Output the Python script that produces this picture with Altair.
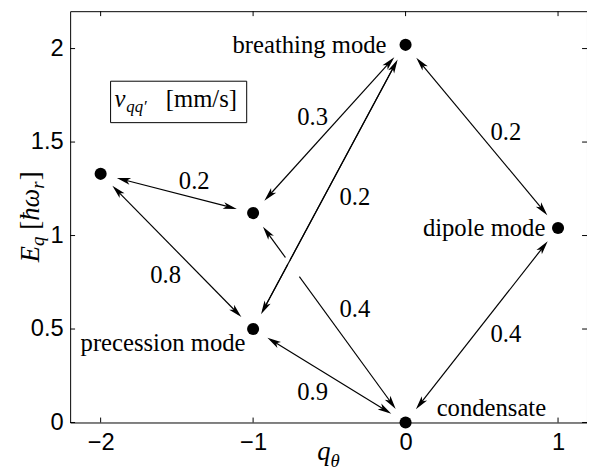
import math
import altair as alt
import pandas as pd

# ---------------- data ----------------
node_q = [0, 1, 0, -1, -1, -2]
node_E = [0.0, 1.04, 2.02, 0.50, 1.12, 1.33]

mode_names = ["condensate", "dipole mode", "breathing mode", "precession mode"]
mode_label_q = [0.204, 0.917, -0.125, -1.05]
mode_label_E = [0.079, 1.04, 2.02, 0.422]
mode_label_align = ["left", "right", "right", "right"]

edge_from = [5, 5, 2, 2, 2, 1, 4, 3]
edge_to = [4, 3, 4, 3, 1, 0, 0, 0]
edge_v = ["0.2", "0.8", "0.3", "0.2", "0.2", "0.4", "0.4", "0.9"]
edge_label_q = [-1.386, -1.574, -0.61, -0.332, 0.658, 0.658, -0.332, -0.61]
edge_label_E = [1.293, 0.79, 1.636, 1.203, 1.551, 0.475, 0.607, 0.164]

x_ticks = [-2, -1, 0, 1]
y_ticks = [0, 0.5, 1, 1.5, 2]

# ---------------- geometry ----------------
XMIN, XMAX = -2.2, 1.19
YMIN, YMAX = 0.0, 2.2
W, H = 524, 417
UX = W / (XMAX - XMIN)
UY = H / (YMAX - YMIN)
GAP = 17
HEAD = 14
SERIF = "Liberation Serif"
SANS = "Liberation Sans"


def to_px(q, E):
    return (q - XMIN) * UX, (YMAX - E) * UY


def to_data(px, py):
    return XMIN + px / UX, YMAX - py / UY


seg_rows, head_rows = [], []
for k, (i, j) in enumerate(zip(edge_from, edge_to)):
    x0, y0 = to_px(node_q[i], node_E[i])
    x1, y1 = to_px(node_q[j], node_E[j])
    dx, dy = x1 - x0, y1 - y0
    L = math.hypot(dx, dy)
    ux, uy = dx / L, dy / L
    ax, ay = x0 + ux * GAP, y0 + uy * GAP
    bx, by = x1 - ux * GAP, y1 - uy * GAP
    qa0, ea0 = to_data(ax + ux * 4, ay + uy * 4)
    qb0, eb0 = to_data(bx - ux * 4, by - uy * 4)
    seg_rows.append(dict(edge=k, q=qa0, E=ea0, q2=qb0, E2=eb0))
    ang_b = math.degrees(math.atan2(uy, ux)) % 360
    ang_a = (ang_b + 180) % 360
    qa, ea = to_data(ax, ay)
    qb, eb = to_data(bx, by)
    head_rows.append(dict(q=qa, E=ea, angle=ang_a))
    head_rows.append(dict(q=qb, E=eb, angle=ang_b))

seg_df = pd.DataFrame(seg_rows)
head_df = pd.DataFrame(head_rows)


# white break where edge 6 passes under edge 3
def seg_px(k):
    i, j = edge_from[k], edge_to[k]
    return to_px(node_q[i], node_E[i]), to_px(node_q[j], node_E[j])


(p1, p2), (p3, p4) = seg_px(6), seg_px(3)
d1 = (p2[0] - p1[0], p2[1] - p1[1])
d2 = (p4[0] - p3[0], p4[1] - p3[1])
den = d1[0] * d2[1] - d1[1] * d2[0]
t = ((p3[0] - p1[0]) * d2[1] - (p3[1] - p1[1]) * d2[0]) / den
ix, iy = p1[0] + t * d1[0], p1[1] + t * d1[1]
l1 = math.hypot(*d1)
g1 = (d1[0] / l1, d1[1] / l1)
gq0, ge0 = to_data(ix - g1[0] * 6, iy - g1[1] * 6)
gq1, ge1 = to_data(ix + g1[0] * 18, iy + g1[1] * 18)
gap_df = pd.DataFrame([dict(q=gq0, E=ge0, q2=gq1, E2=ge1)])

nodes_df = pd.DataFrame(dict(q=node_q, E=node_E))
modes_df = pd.DataFrame(dict(q=mode_label_q, E=mode_label_E, t=mode_names, a=mode_label_align))
edge_lab_df = pd.DataFrame(dict(q=edge_label_q, E=edge_label_E, t=edge_v))

# ---------------- encodings ----------------
xscale = alt.Scale(domain=[XMIN, XMAX], nice=False, zero=False)
yscale = alt.Scale(domain=[YMIN, YMAX], nice=False, zero=False)
xaxis = alt.Axis(values=x_ticks, ticks=False, tickSize=0, domain=False, grid=False,
                 title=None, labelPadding=8, labelFont=SANS, labelFontSize=24, labelColor="black",
                 labelExpr="datum.value < 0 ? '\u2212' + abs(datum.value) : '' + datum.value")
yaxis = alt.Axis(values=y_ticks, ticks=False, tickSize=0, domain=False, grid=False,
                 title=None, labelPadding=7, labelFont=SANS, labelFontSize=24, labelColor="black",
                 labelExpr="'' + datum.value")


def X(f):
    return alt.X(f, type="quantitative", scale=xscale, axis=xaxis)


def Y(f):
    return alt.Y(f, type="quantitative", scale=yscale, axis=yaxis)


layers = []

# inward ticks on all four sides
xt_df = pd.DataFrame(dict(v=x_ticks))
yt_df = pd.DataFrame(dict(v=y_ticks))
tick_style = dict(color="black", strokeWidth=1)
layers.append(alt.Chart(xt_df).mark_rule(**tick_style).encode(x=X("v"), y=alt.value(H), y2=alt.value(H - 5)))
layers.append(alt.Chart(xt_df).mark_rule(**tick_style).encode(x=X("v"), y=alt.value(0), y2=alt.value(5)))
layers.append(alt.Chart(yt_df).mark_rule(**tick_style).encode(y=Y("v"), x=alt.value(0), x2=alt.value(5)))
layers.append(alt.Chart(yt_df).mark_rule(**tick_style).encode(y=Y("v"), x=alt.value(W), x2=alt.value(W - 5)))

# legend box (pixel coordinates of the plot area)
box_df = pd.DataFrame([dict(x1=41, x2=179, y1=71, y2=113)])
layers.append(alt.Chart(box_df).mark_rect(fill="white", stroke="black", strokeWidth=1).encode(
    x=alt.X("x1:Q", scale=None), x2="x2:Q", y=alt.Y("y1:Q", scale=None), y2="y2:Q"))

# arrow shafts
layers.append(alt.Chart(seg_df).mark_rule(color="black", strokeWidth=1.2).encode(
    x=X("q"), y=Y("E"), x2="q2:Q", y2="E2:Q"))
layers.append(alt.Chart(gap_df).mark_rule(color="white", strokeWidth=4, strokeCap="butt").encode(
    x=X("q"), y=Y("E"), x2="q2:Q", y2="E2:Q"))
layers.append(alt.Chart(seg_df[seg_df.edge == 3]).mark_rule(color="black", strokeWidth=1.2).encode(
    x=X("q"), y=Y("E"), x2="q2:Q", y2="E2:Q"))

# arrow heads
layers.append(alt.Chart(head_df).mark_point(
    shape="M0,0L-2,-0.5L-1.5,0L-2,0.5Z", size=HEAD * HEAD, filled=True,
    color="black", opacity=1, strokeWidth=0).encode(
    x=X("q"), y=Y("E"), angle=alt.Angle("angle:Q", scale=None)))

# mode dots
layers.append(alt.Chart(nodes_df).mark_circle(size=150, color="black", opacity=1).encode(x=X("q"), y=Y("E")))

# mode labels
for al in ["left", "right"]:
    layers.append(alt.Chart(modes_df[modes_df.a == al]).mark_text(
        font=SERIF, fontSize=25, align=al, baseline="middle", color="black").encode(
        x=X("q"), y=Y("E"), text="t:N"))

# velocity labels
layers.append(alt.Chart(edge_lab_df).mark_text(
    font=SERIF, fontSize=25, align="center", baseline="middle", color="black").encode(
    x=X("q"), y=Y("E"), text="t:N"))

# ---------------- titles built from pieces (pixel coordinates) ----------------
pieces = []
# y title: E_q [ħω_r], rotated
yt_parts = [("E", "italic", 27, 0.611, 0, 0), ("q", "italic", 19, 0.5, 6, 7),
            ("[", "normal", 27, 0.333, 0, 0), ("ħω", "italic", 27, 1.17, 0, 1),
            ("r", "italic", 19, 0.389, 6, 1), ("]", "normal", 27, 0.333, 0, 0)]
total = sum(p[3] * p[2] + p[5] for p in yt_parts)
cur = H / 2 + total / 2
for txt, st, sz, adv, perp, extra in yt_parts:
    pieces.append(dict(px=-32 + perp, py=cur, t=txt, st=st, sz=sz, ang=270))
    cur -= adv * sz + extra
# x title: q_θ
xt_parts = [("q", "italic", 27, 0.5, 0), ("θ", "italic", 19, 0.5, 7)]
xtot = sum(p[3] * p[2] for p in xt_parts)
cur = W / 2 - xtot / 2
for txt, st, sz, adv, drop in xt_parts:
    pieces.append(dict(px=cur, py=455 + drop, t=txt, st=st, sz=sz, ang=0))
    cur += adv * sz
# legend text: v_qq' [mm/s]
pieces.append(dict(px=45, py=97, t="v", st="italic", sz=25, ang=0))
pieces.append(dict(px=57, py=102, t="qq′", st="italic", sz=17, ang=0))
pieces.append(dict(px=97, py=97, t="[mm/s]", st="normal", sz=25, ang=0))
pieces_df = pd.DataFrame(pieces)

for (st, sz, ang), g in pieces_df.groupby(["st", "sz", "ang"]):
    layers.append(alt.Chart(g).mark_text(
        font=SERIF, fontSize=int(sz), fontStyle=st, align="left", baseline="alphabetic",
        angle=int(ang), color="black").encode(
        x=alt.X("px:Q", scale=None), y=alt.Y("py:Q", scale=None), text="t:N"))

chart = alt.layer(*layers).properties(
    width=W, height=H,
    autosize=alt.AutoSizeParams(type="none"),
    padding={"left": 63, "top": 0, "right": 0, "bottom": 50},
).configure_view(stroke="black", strokeWidth=1)

chart.save("out.html", embed_options={"renderer": "svg", "actions": False})
